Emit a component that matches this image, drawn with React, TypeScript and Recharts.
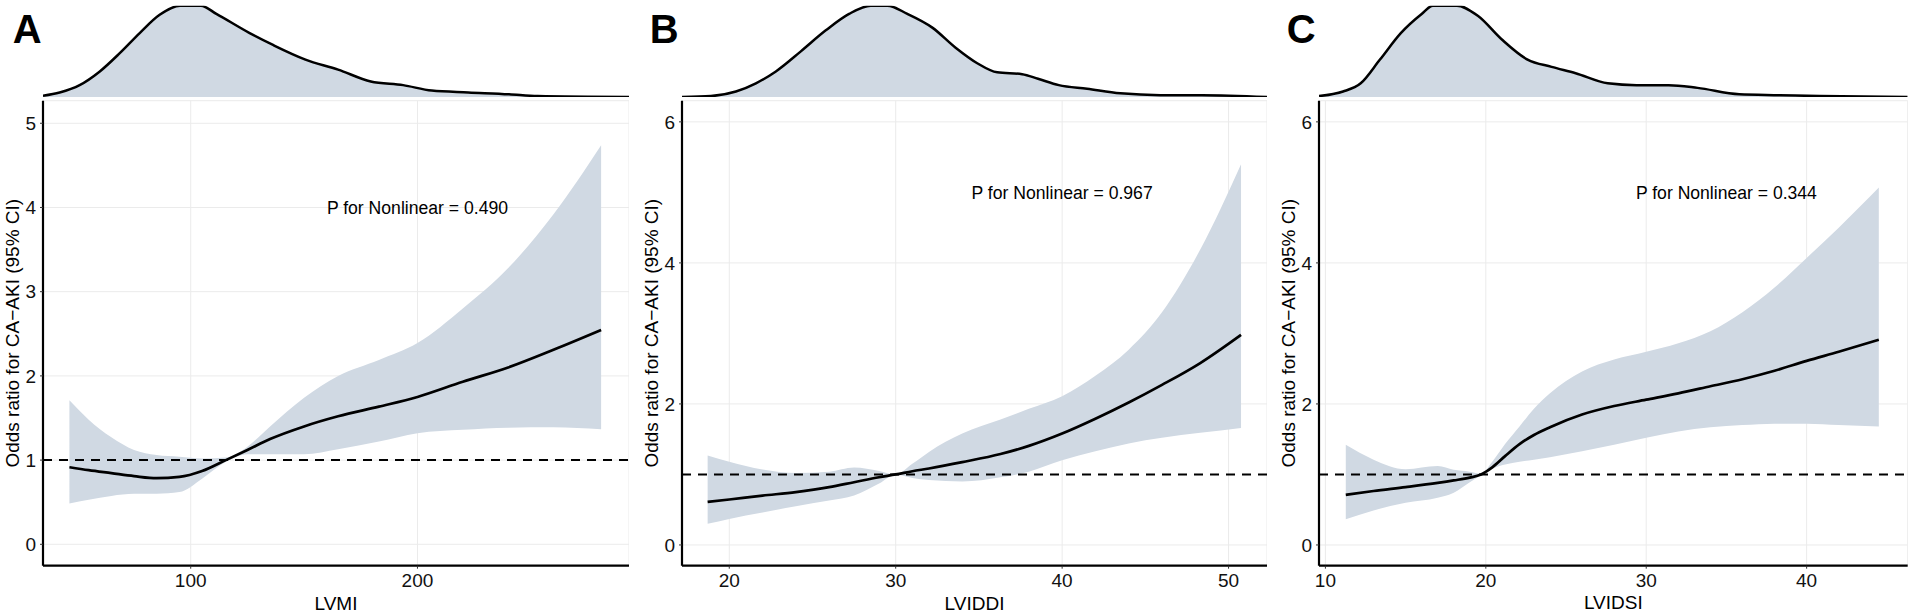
import React from 'react';
import { ComposedChart, AreaChart, Area, Line, XAxis, YAxis, CartesianGrid, ReferenceLine, ReferenceDot } from 'recharts';

const FONT = '"Liberation Sans", Arial, Helvetica, sans-serif';
const BAND = '#d0d9e3';
const Y_TITLE = 'Odds ratio for CA\u2212AKI (95% CI)';

// ---- panel A: LVMI ----
const lvmiX = [46.5, 55, 65, 75, 85, 95, 105, 115.5, 125, 135, 150, 165, 183, 200, 220, 240, 260, 281];
const lvmiOR = [0.915, 0.88, 0.845, 0.81, 0.785, 0.8, 0.87, 1.0, 1.12, 1.25, 1.4, 1.52, 1.635, 1.75, 1.93, 2.1, 2.31, 2.545];
const lvmiLo = [0.485, 0.53, 0.575, 0.6, 0.6, 0.62, 0.78, 0.98, 1.07, 1.07, 1.07, 1.13, 1.22, 1.32, 1.36, 1.385, 1.39, 1.366];
const lvmiHi = [1.71, 1.48, 1.27, 1.12, 1.06, 1.04, 1.02, 1.03, 1.16, 1.4, 1.74, 2.0, 2.19, 2.39, 2.8, 3.28, 3.92, 4.74];
const lvmiDensX = [34.85, 42.2, 51, 59.9, 68.7, 77.5, 86.3, 95.3, 104.5, 111.3, 126, 136.3, 150.6, 165, 179.4, 193.7, 206.3, 222.4, 240.4, 253, 293.3];
const lvmiDens = [0.014, 0.05, 0.13, 0.28, 0.48, 0.7, 0.9, 1.0, 1.0, 0.91, 0.7, 0.57, 0.41, 0.3, 0.17, 0.13, 0.07, 0.05, 0.03, 0.01, 0.0];

// ---- panel B: LVIDDI ----
const lviddiX = [18.7, 20, 22, 24, 26, 27.5, 29, 30, 31, 32, 34, 36.3, 38, 40, 42, 44, 46, 48.3, 50.75];
const lviddiOR = [0.61, 0.645, 0.7, 0.75, 0.82, 0.89, 0.96, 1.0, 1.045, 1.085, 1.175, 1.29, 1.405, 1.58, 1.79, 2.02, 2.27, 2.58, 2.98];
const lviddiLo = [0.3, 0.37, 0.46, 0.55, 0.63, 0.7, 0.87, 1.0, 0.95, 0.92, 0.9, 0.96, 1.04, 1.2, 1.33, 1.44, 1.52, 1.59, 1.66];
const lviddiHi = [1.27, 1.18, 1.07, 1.02, 1.04, 1.1, 1.05, 1.0, 1.15, 1.32, 1.58, 1.78, 1.93, 2.11, 2.4, 2.77, 3.3, 4.19, 5.4];
const lviddiDensX = [17.16, 18.9, 20.4, 21.6, 22.8, 24.3, 25.8, 27.2, 28.5, 29.5, 30.7, 32.2, 33.6, 34.9, 36.1, 37.6, 38.55, 39.8, 41.5, 43.5, 45.9, 48.4, 52.31];
const lviddiDens = [0.0, 0.01, 0.06, 0.15, 0.28, 0.5, 0.73, 0.91, 1.0, 1.0, 0.91, 0.76, 0.54, 0.37, 0.27, 0.25, 0.2, 0.13, 0.09, 0.04, 0.02, 0.02, 0.0];

// ---- panel C: LVIDSI ----
const lvidsiX = [11.27, 13, 15, 17, 18, 19, 19.7, 20.4, 21.2, 22.1, 23, 24, 26, 28, 30, 32, 34, 36, 38, 40, 42, 44.5];
const lvidsiOR = [0.71, 0.765, 0.82, 0.88, 0.915, 0.955, 1.0, 1.1, 1.26, 1.43, 1.56, 1.67, 1.85, 1.97, 2.06, 2.15, 2.25, 2.35, 2.47, 2.61, 2.74, 2.91];
const lvidsiLo = [0.365, 0.49, 0.6, 0.67, 0.74, 0.89, 0.99, 1.08, 1.14, 1.18, 1.21, 1.245, 1.33, 1.42, 1.52, 1.61, 1.67, 1.7, 1.72, 1.72, 1.7, 1.68];
const lvidsiHi = [1.42, 1.21, 1.075, 1.12, 1.065, 1.04, 1.01, 1.18, 1.43, 1.68, 1.93, 2.15, 2.46, 2.63, 2.74, 2.86, 3.03, 3.3, 3.65, 4.07, 4.5, 5.07];
const lvidsiDensX = [9.6, 11.1, 12.2, 13.4, 14.7, 16.0, 16.7, 18.2, 19.5, 21.0, 22.6, 24.1, 25.6, 27.6, 29.4, 31.4, 33.2, 35.8, 38.3, 40.8, 46.3];
const lvidsiDens = [0.01, 0.06, 0.15, 0.41, 0.7, 0.91, 1.0, 1.0, 0.89, 0.63, 0.41, 0.33, 0.26, 0.15, 0.13, 0.13, 0.1, 0.03, 0.02, 0.01, 0.0];

const curve = (xs: number[], or: number[], lo: number[], hi: number[]) =>
  xs.map((x, i) => ({ x, or: or[i], ci: [lo[i], hi[i]] }));
const dens = (xs: number[], d: number[]) => xs.map((x, i) => ({ x, d: d[i] }));

const panels = [
  {
    tag: 'A', tagX: 12.7, title: 'LVMI', left: 43.3, right: 629.3,
    xDomain: [34.85, 293.3], xTicks: [100, 200],
    yDomain: [-0.254, 5.268], yTicks: [0, 1, 2, 3, 4, 5],
    note: { x: 200, y: 4, text: 'P for Nonlinear = 0.490' },
    data: curve(lvmiX, lvmiOR, lvmiLo, lvmiHi), density: dens(lvmiDensX, lvmiDens),
  },
  {
    tag: 'B', tagX: 649.7, title: 'LVIDDI', left: 681.7, right: 1266.7,
    xDomain: [17.16, 52.31], xTicks: [20, 30, 40, 50],
    yDomain: [-0.294, 6.3], yTicks: [0, 2, 4, 6],
    note: { x: 40, y: 5, text: 'P for Nonlinear = 0.967' },
    data: curve(lviddiX, lviddiOR, lviddiLo, lviddiHi), density: dens(lviddiDensX, lviddiDens),
  },
  {
    tag: 'C', tagX: 1286.7, title: 'LVIDSI', left: 1319.3, right: 1908,
    xDomain: [9.6, 46.3], xTicks: [10, 20, 30, 40],
    yDomain: [-0.294, 6.3], yTicks: [0, 2, 4, 6],
    note: { x: 35, y: 5, text: 'P for Nonlinear = 0.344' },
    data: curve(lvidsiX, lvidsiOR, lvidsiLo, lvidsiHi), density: dens(lvidsiDensX, lvidsiDens),
  },
];

const MAIN_TOP = 90;
const MAIN_H = 522;
const YW = 43;

const yTitle = (props: any) => {
  const vb = props.viewBox;
  const x = vb.x + vb.width - 24.3;
  const y = vb.y + vb.height / 2;
  return (
    <text x={x} y={y} transform={`rotate(-90 ${x} ${y})`} textAnchor="middle" fontSize={19} fill="#000">
      {Y_TITLE}
    </text>
  );
};

const tickStyle = { fill: '#111', fontSize: 19 };

const Panel = ({ p }: { p: (typeof panels)[number] }) => {
  const plotW = p.right - p.left;
  return (
    <>
      <div style={{ position: 'absolute', left: p.left, top: 0 }}>
        <AreaChart width={plotW} height={100} data={p.density} margin={{ top: 5.7, right: 0, bottom: 3, left: 0 }}>
          <XAxis dataKey="x" type="number" domain={p.xDomain} allowDataOverflow hide />
          <YAxis type="number" domain={[0, 1]} allowDataOverflow hide />
          <Area type="monotone" dataKey="d" stroke="#000" strokeWidth={2.5} fill={BAND} fillOpacity={1} isAnimationActive={false} />
        </AreaChart>
      </div>
      <div style={{ position: 'absolute', left: p.left - YW, top: MAIN_TOP }}>
        <ComposedChart width={YW + plotW} height={MAIN_H} data={p.data} margin={{ top: 10.7, right: 0, bottom: 0, left: 0 }}>
          <CartesianGrid stroke="#ebebeb" strokeWidth={1} />
          <XAxis
            dataKey="x" type="number" domain={p.xDomain} ticks={p.xTicks} allowDataOverflow
            height={46.3} tickSize={3} tickMargin={4.8} tick={tickStyle}
            tickLine={{ stroke: '#333' }} axisLine={{ stroke: '#000', strokeWidth: 2.2 }}
            label={{ value: p.title, position: 'insideBottom', offset: 2.5, fontSize: 19, fill: '#000' }}
          />
          <YAxis
            type="number" domain={p.yDomain} ticks={p.yTicks} allowDataOverflow
            width={YW} tickSize={3} tickMargin={4} tick={tickStyle}
            tickLine={{ stroke: '#333' }} axisLine={{ stroke: '#000', strokeWidth: 2.2 }}
            label={{ content: yTitle }}
          />
          <Area type="monotone" dataKey="ci" stroke="none" fill={BAND} fillOpacity={1} isAnimationActive={false} />
          <Line type="monotone" dataKey="or" stroke="#000" strokeWidth={2.7} dot={false} isAnimationActive={false} />
          <ReferenceLine y={1} stroke="#000" strokeWidth={2} strokeDasharray="9 7" />
          <ReferenceDot
            x={p.note.x} y={p.note.y} r={0} fill="none" stroke="none"
            label={{ value: p.note.text, position: 'center', fontSize: 17.6, fill: '#000' }}
          />
        </ComposedChart>
      </div>
    </>
  );
};

export default function App() {
  return (
    <div style={{ position: 'relative', width: 1909, height: 612, background: '#fff', fontFamily: FONT, overflow: 'hidden' }}>
      <style>{'body{margin:0}'}</style>
      {panels.map((p) => (
        <Panel key={p.tag} p={p} />
      ))}
      <svg width={1909} height={612} style={{ position: 'absolute', left: 0, top: 0, pointerEvents: 'none' }}>
        {panels.map((p) => (
          <text key={p.tag} x={p.tagX} y={42.6} fontSize={40} fontWeight="bold" fill="#000">
            {p.tag}
          </text>
        ))}
      </svg>
    </div>
  );
}
